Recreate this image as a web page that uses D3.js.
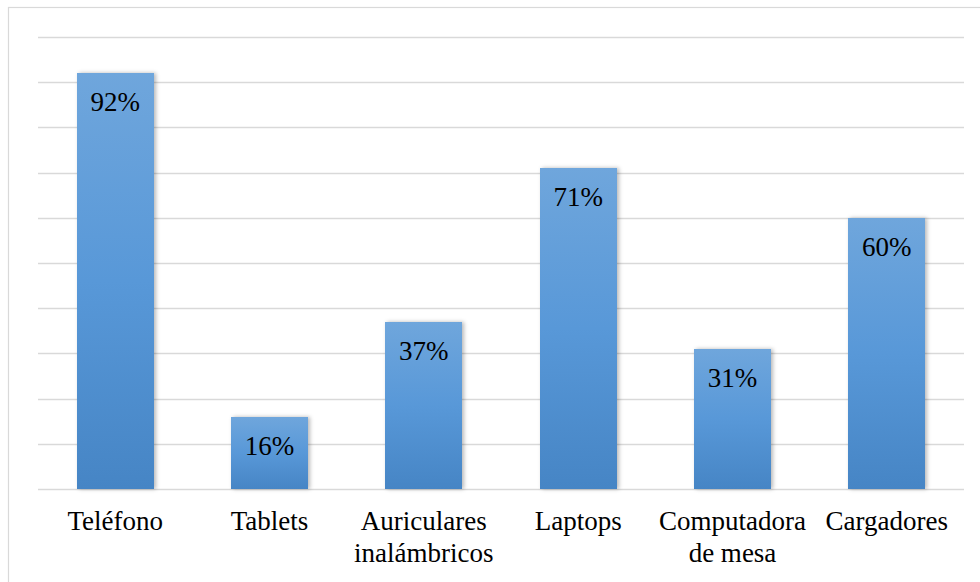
<!DOCTYPE html>
<html>
<head>
<meta charset="utf-8">
<script src="https://cdn.jsdelivr.net/npm/d3@7"></script>
</head>
<body style="margin:0">
<div id="wrap" style="position:relative;width:980px;height:582px;overflow:hidden;background:#fff"></div>
<script>
// Device categories (label lines) and share of respondents, in percent
const categories = [
  ["Teléfono"],
  ["Tablets"],
  ["Auriculares", "inalámbricos"],
  ["Laptops"],
  ["Computadora", "de mesa"],
  ["Cargadores"]
];
const values = [92, 16, 37, 71, 31, 60];
const gridTicks = [0, 10, 20, 30, 40, 50, 60, 70, 80, 90, 100];

const W = 980, H = 582;
const plot = { left: 38, right: 964, top: 37, bottom: 489 };
const serif = '"Liberation Serif", serif';
const wrap = d3.select("#wrap");

const x = d3.scaleBand()
  .domain(d3.range(categories.length))
  .range([plot.left, plot.right])
  .paddingInner(0.5).paddingOuter(0.25);

const y = d3.scaleLinear().domain([0, 100]).range([plot.bottom, plot.top]);

// Back layer: frame and gridlines
const back = wrap.append("svg")
  .attr("width", W).attr("height", H)
  .style("position", "absolute").style("left", "0px").style("top", "0px");

back.append("rect")
  .attr("x", 8.5).attr("y", 7.5)
  .attr("width", W).attr("height", H)
  .attr("fill", "#fff")
  .attr("stroke", "#d9d9d9").attr("stroke-width", 1.2);

back.selectAll("line")
  .data(gridTicks)
  .join("line")
  .attr("x1", plot.left).attr("x2", plot.right)
  .attr("y1", d => Math.round(y(d)) + 0.5).attr("y2", d => Math.round(y(d)) + 0.5)
  .attr("stroke", "#d9d9d9").attr("stroke-width", d => d === 0 ? 1.6 : 1.3);

// Middle layer: bars with vertical gradient and soft side shadow
wrap.selectAll("div.bar")
  .data(values)
  .join("div")
  .attr("class", "bar")
  .style("position", "absolute")
  .style("left", (d, i) => x(i) + "px")
  .style("width", x.bandwidth() + "px")
  .style("top", d => y(d) + "px")
  .style("height", d => (y(0) - y(d)) + "px")
  .style("background", "linear-gradient(to bottom, #6fa6dc 0%, #5898d8 50%, #4685c5 100%)")
  .style("box-shadow", "1.5px 0 4px rgba(0,0,0,0.28)");

// Front layer: value and category labels
const front = wrap.append("svg")
  .attr("width", W).attr("height", H)
  .style("position", "absolute").style("left", "0px").style("top", "0px");

front.selectAll("text.value")
  .data(values)
  .join("text")
  .attr("class", "value")
  .attr("x", (d, i) => x(i) + x.bandwidth() / 2)
  .attr("y", d => y(d) + 38)
  .attr("text-anchor", "middle")
  .style("font-family", serif)
  .style("font-size", "27px")
  .text(d => d + "%");

// One text element per category label line
const catLines = categories.flatMap((lines, i) => lines.map((t, j) => ({ i, j, t })));
front.selectAll("text.cat")
  .data(catLines)
  .join("text")
  .attr("class", "cat")
  .attr("x", d => x(d.i) + x.bandwidth() / 2)
  .attr("y", d => 530 + d.j * 32)
  .attr("text-anchor", "middle")
  .style("font-family", serif)
  .style("font-size", "27px")
  .text(d => d.t);
</script>
</body>
</html>
